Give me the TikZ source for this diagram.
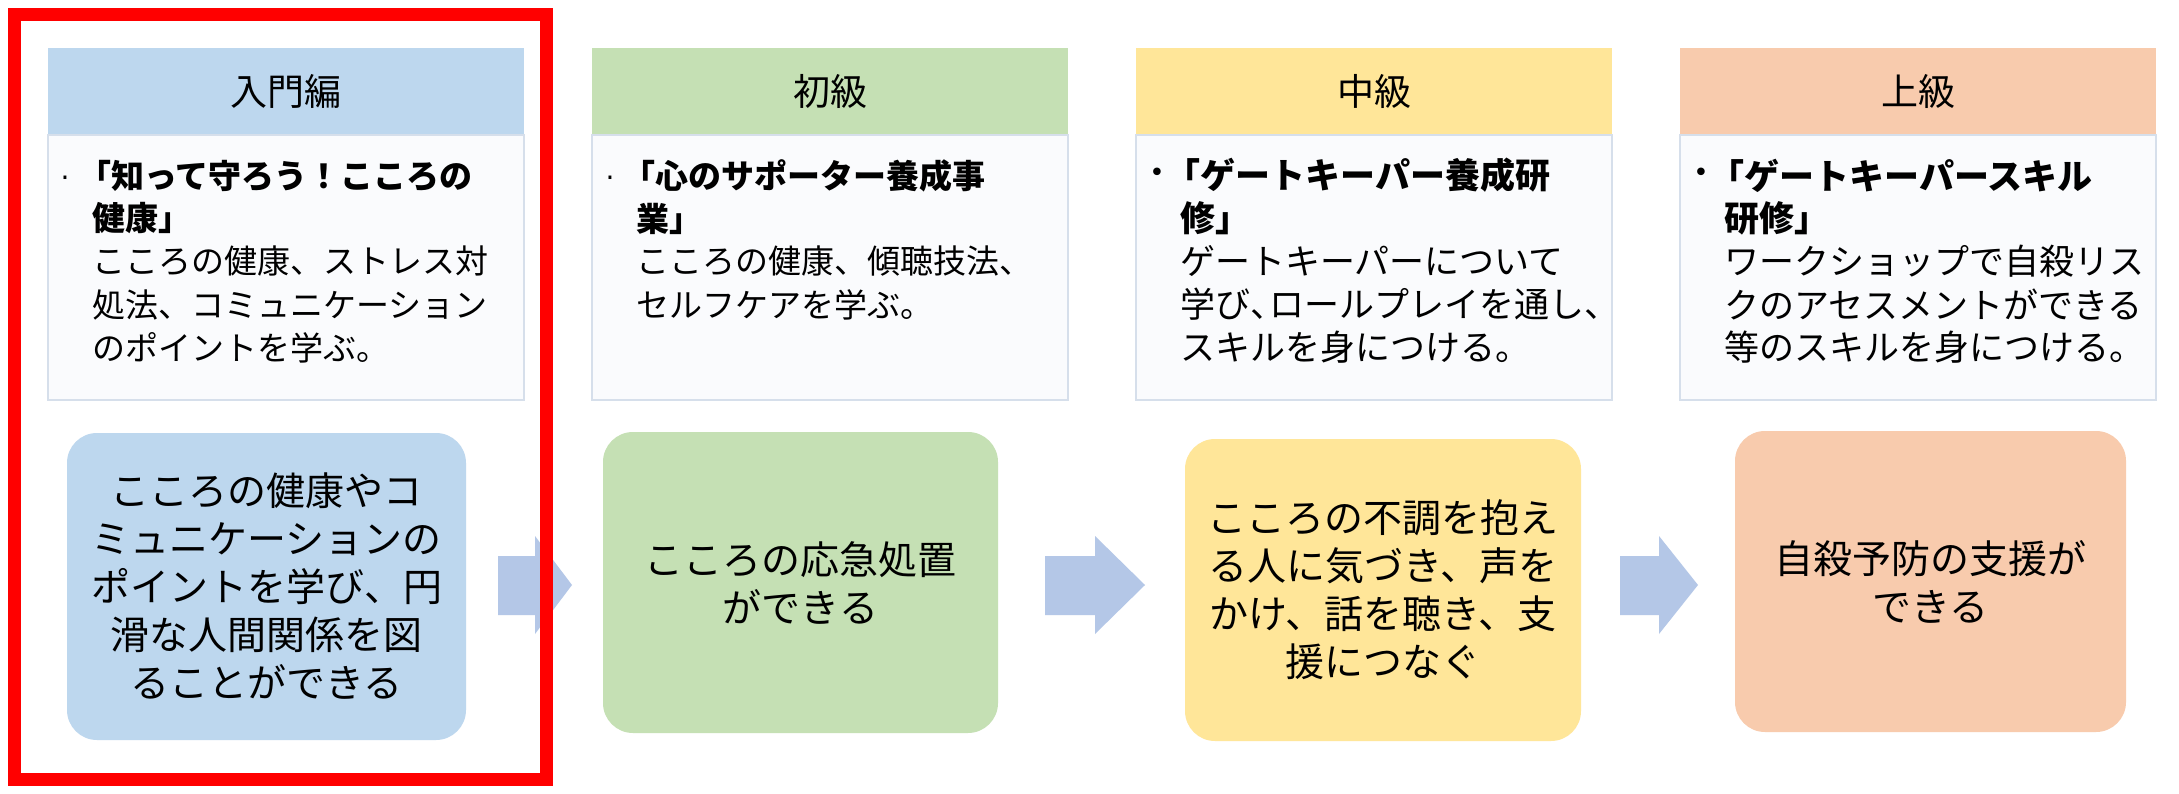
\documentclass[tikz,border=0pt]{standalone}
\usepackage{fontspec}
\setmainfont{Noto Sans CJK JP}
\newfontfamily\symfont{DejaVu Sans}
\definecolor{cblue}{HTML}{BDD7EE}
\definecolor{cgreen}{HTML}{C5E0B4}
\definecolor{cyellow}{HTML}{FFE699}
\definecolor{corange}{HTML}{F8CBAD}
\definecolor{carrow}{HTML}{B4C7E7}
\definecolor{cdetfill}{HTML}{FAFBFD}
\definecolor{cdetline}{HTML}{D6DFEB}
\definecolor{cred}{HTML}{FF0000}
\tikzset{
 hdr/.style={fill=#1, draw=none, minimum width=476pt, minimum height=87pt, inner sep=0pt, font=\fontsize{37}{44}\selectfont},
 det/.style={fill=cdetfill, draw=cdetline, line width=1.5pt, minimum width=476pt, minimum height=265pt, inner sep=0pt},
 dl/.style={anchor=west, inner sep=0pt, font=\fontsize{33}{43}\selectfont},
 dlb/.style={anchor=west, inner sep=0pt, font=\fontsize{35}{43}\selectfont},
 bul/.style={inner sep=0pt, font=\symfont\fontsize{28}{30}\selectfont},
 bulb/.style={inner sep=0pt, font=\symfont\fontsize{26}{30}\selectfont},
 res/.style={fill=#1, draw=none, rounded corners=30pt, inner sep=0pt, align=center, font=\fontsize{39}{48}\selectfont},
 blk/.style={fill=carrow, draw=none},
 frame/.style={draw=cred, line width=13pt},
}
\newcommand\openbr{\hbox to 0.58em{\hss「}}
\newcommand\blkarrow[3]{\fill[blk] (#1,556) -- (#2,556) -- (#2,536) -- (#3,585) -- (#2,634) -- (#2,615) -- (#1,615) -- cycle;}
\begin{document}
\begin{tikzpicture}[x=1pt,y=-1pt]
\fill[white] (0,0) rectangle (2179,794);
\path[use as bounding box] (0,0) rectangle (2179,794);
% headers
\node[hdr=cblue]   (h1) at (286,91.5)  {入門編};
\node[hdr=cgreen]  (h2) at (830,91.5)  {初級};
\node[hdr=cyellow] (h3) at (1374,91.5) {中級};
\node[hdr=corange] (h4) at (1918,91.5) {上級};
% detail boxes
\node[det] (d1) at (286,267.5)  {};
\node[det] (d2) at (830,267.5)  {};
\node[det] (d3) at (1374,267.5) {};
\node[det] (d4) at (1918,267.5) {};
% bullets
\node[bul]  (b1) at (65,182)   {·};
\node[bul]  (b2) at (610,182)  {·};
\node[bulb] (b3) at (1157,175) {•};
\node[bulb] (b4) at (1701,175) {•};
% detail texts, column 1
\node[dl] (t1a) at (92,175.5) {\textbf{\openbr 知って守ろう！こころの}};
\node[dl] (t1b) at (92,218.5) {\textbf{健康」}};
\node[dl] (t1c) at (92,261.5) {こころの健康、ストレス対};
\node[dl] (t1d) at (92,304.5) {処法、コミュニケーション};
\node[dl] (t1e) at (92,347.5) {のポイントを学ぶ。};
% column 2
\node[dl] (t2a) at (636,175.5) {\textbf{\openbr 心のサポーター養成事}};
\node[dl] (t2b) at (636,218.5) {\textbf{業」}};
\node[dl] (t2c) at (636,261.5) {こころの健康、傾聴技法、};
\node[dl] (t2d) at (636,304.5) {セルフケアを学ぶ。};
% column 3
\node[dlb] (t3a) at (1180,175.5) {\textbf{\openbr ゲートキーパー養成研}};
\node[dlb] (t3b) at (1180,218.5) {\textbf{修」}};
\node[dlb] (t3c) at (1180,261.5) {ゲートキーパーについて};
\node[dlb] (t3d) at (1180,304.5) {学び、\kern-0.45em ロールプレイを通し、};
\node[dlb] (t3e) at (1180,347.5) {スキルを身につける。};
% column 4
\node[dlb] (t4a) at (1724,175.5) {\textbf{\openbr ゲートキーパースキル}};
\node[dlb] (t4b) at (1724,218.5) {\textbf{研修」}};
\node[dlb] (t4c) at (1724,261.5) {ワークショップで自殺リス};
\node[dlb] (t4d) at (1724,304.5) {クのアセスメントができる};
\node[dlb] (t4e) at (1724,347.5) {等のスキルを身につける。};
% result boxes
\node[res=cblue, minimum width=399pt, minimum height=307pt] (r1) at (266.5,586.5) {こころの健康やコ\\ミュニケーションの\\ポイントを学び、円\\滑な人間関係を図\\ることができる};
\node[res=cgreen, minimum width=395pt, minimum height=301pt] (r2) at (800.5,582.5) {こころの応急処置\\ができる};
\node[res=cyellow, minimum width=396pt, minimum height=302pt] (r3) at (1383,590) {こころの不調を抱え\\る人に気づき、声を\\かけ、話を聴き、支\\援につなぐ};
\node[res=corange, minimum width=391pt, minimum height=301pt] (r4) at (1930.5,581.5) {自殺予防の支援が\\できる};
% block arrows
\blkarrow{498}{535}{572}
\blkarrow{1045}{1095}{1145}
\blkarrow{1620}{1659}{1698}
% red frame
\draw[frame] (14.5,14.5) rectangle (546.5,779);
\end{tikzpicture}
\end{document}
